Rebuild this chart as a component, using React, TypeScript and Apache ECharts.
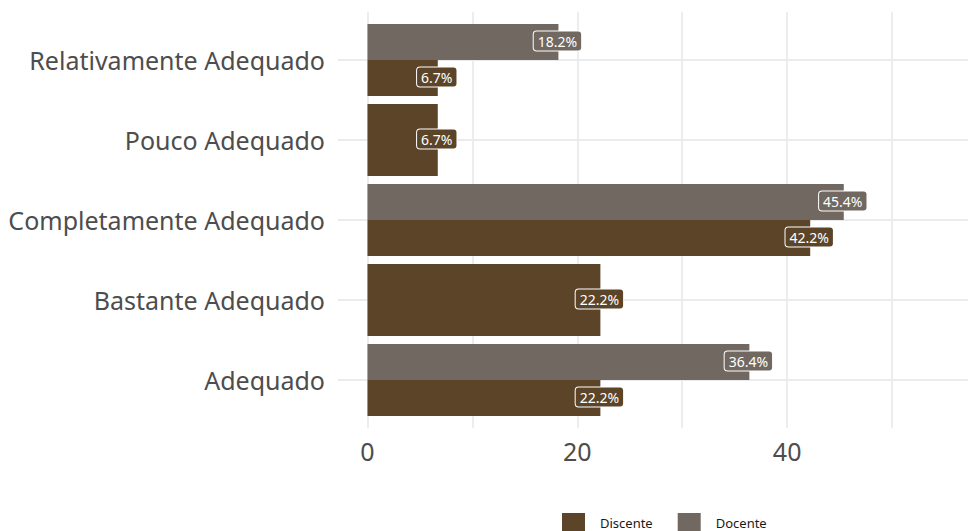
import React, { useEffect, useRef } from "react";
import * as echarts from "echarts";

const categories = [
  "Adequado",
  "Bastante Adequado",
  "Completamente Adequado",
  "Pouco Adequado",
  "Relativamente Adequado",
];
const discente: (number | null)[] = [22.2, 22.2, 42.2, 6.7, 6.7];
const docente: (number | null)[] = [36.4, null, 45.4, null, 18.2];
const xLabelTicks = [0, 20, 40];
const xGridTicks = [0, 10, 20, 30, 40, 50];

const COLOR_DISCENTE = "#5C4428";
const COLOR_DOCENTE = "#716862";
const FONT = "'Noto Sans', 'Open Sans', sans-serif";

export default function App() {
  const ref = useRef<HTMLDivElement>(null);
  useEffect(() => {
    if (!ref.current) return;
    const chart = echarts.init(ref.current, null, { renderer: "svg" });

    const makeRender = (which: "discente" | "docente", color: string) =>
      (params: any, api: any) => {
        const value = api.value(0);
        const cat = api.value(1);
        const paired = api.value(2) === 1;
        let y0: number, y1: number;
        if (!paired) {
          y0 = cat - 0.45;
          y1 = cat + 0.45;
        } else if (which === "discente") {
          y0 = cat - 0.45;
          y1 = cat;
        } else {
          y0 = cat;
          y1 = cat + 0.45;
        }
        const pStart = api.coord([0, y1]);
        const pEnd = api.coord([value, y0]);
        const pLabel = api.coord([value, (y0 + y1) / 2]);
        return {
          type: "group",
          children: [
            {
              type: "rect",
              shape: {
                x: pStart[0],
                y: pStart[1],
                width: pEnd[0] - pStart[0],
                height: pEnd[1] - pStart[1],
              },
              style: { fill: color },
            },
            {
              type: "text",
              x: pLabel[0] - 1,
              y: pLabel[1] - 1,
              z2: 10,
              style: {
                text: value.toFixed(1) + "%",
                fill: "#ffffff",
                font: `14px ${FONT}`,
                align: "center",
                verticalAlign: "middle",
                backgroundColor: color,
                borderColor: "#ffffff",
                borderWidth: 1,
                borderRadius: 3,
                padding: [3, 4, 2, 4],
              },
            },
          ],
        };
      };

    const discData: any[] = [];
    const docData: any[] = [];
    categories.forEach((_, i) => {
      const d = discente[i];
      const o = docente[i];
      const paired = d != null && o != null ? 1 : 0;
      if (d != null) discData.push([d, i, paired]);
      if (o != null) docData.push([o, i, paired]);
    });

    chart.setOption({
      animation: false,
      backgroundColor: "#ffffff",
      grid: { left: 338, right: 0, top: 12, bottom: 103 },
      xAxis: {
        type: "value",
        min: -2.81,
        max: 57.24,
        axisLine: { show: false },
        axisTick: { show: false, customValues: xGridTicks },
        splitLine: { show: true, lineStyle: { color: "#EBEBEB", width: 1.8 } },
        axisLabel: {
          customValues: xLabelTicks,
          color: "#4D4D4D",
          fontSize: 25,
          fontFamily: FONT,
          margin: 10,
        },
      },
      yAxis: {
        type: "value",
        min: -0.6,
        max: 4.6,
        axisLine: { show: false },
        axisTick: { show: false, customValues: [0, 1, 2, 3, 4] },
        splitLine: { show: true, lineStyle: { color: "#EBEBEB", width: 1.8 } },
        axisLabel: {
          customValues: [0, 1, 2, 3, 4],
          formatter: (v: number) => categories[Math.round(v)] ?? "",
          color: "#4D4D4D",
          fontSize: 25,
          fontFamily: FONT,
          margin: 13,
        },
      },
      legend: {
        top: 513,
        left: 562,
        padding: 0,
        itemWidth: 23,
        itemHeight: 19,
        itemGap: 25,
        icon: "rect",
        textStyle: { color: "#1a1a1a", fontSize: 13, fontFamily: FONT, padding: [4, 0, 0, 10] },
        data: [
          { name: "Discente", itemStyle: { color: COLOR_DISCENTE } },
          { name: "Docente", itemStyle: { color: COLOR_DOCENTE } },
        ],
      },
      series: [
        {
          type: "custom",
          name: "Discente",
          itemStyle: { color: COLOR_DISCENTE },
          renderItem: makeRender("discente", COLOR_DISCENTE),
          encode: { x: 0, y: 1 },
          data: discData,
        },
        {
          type: "custom",
          name: "Docente",
          itemStyle: { color: COLOR_DOCENTE },
          renderItem: makeRender("docente", COLOR_DOCENTE),
          encode: { x: 0, y: 1 },
          data: docData,
        },
      ],
    });
    return () => chart.dispose();
  }, []);
  return (
    <div
      ref={ref}
      style={{ position: "fixed", left: 0, top: 0, width: 968, height: 531 }}
    />
  );
}
